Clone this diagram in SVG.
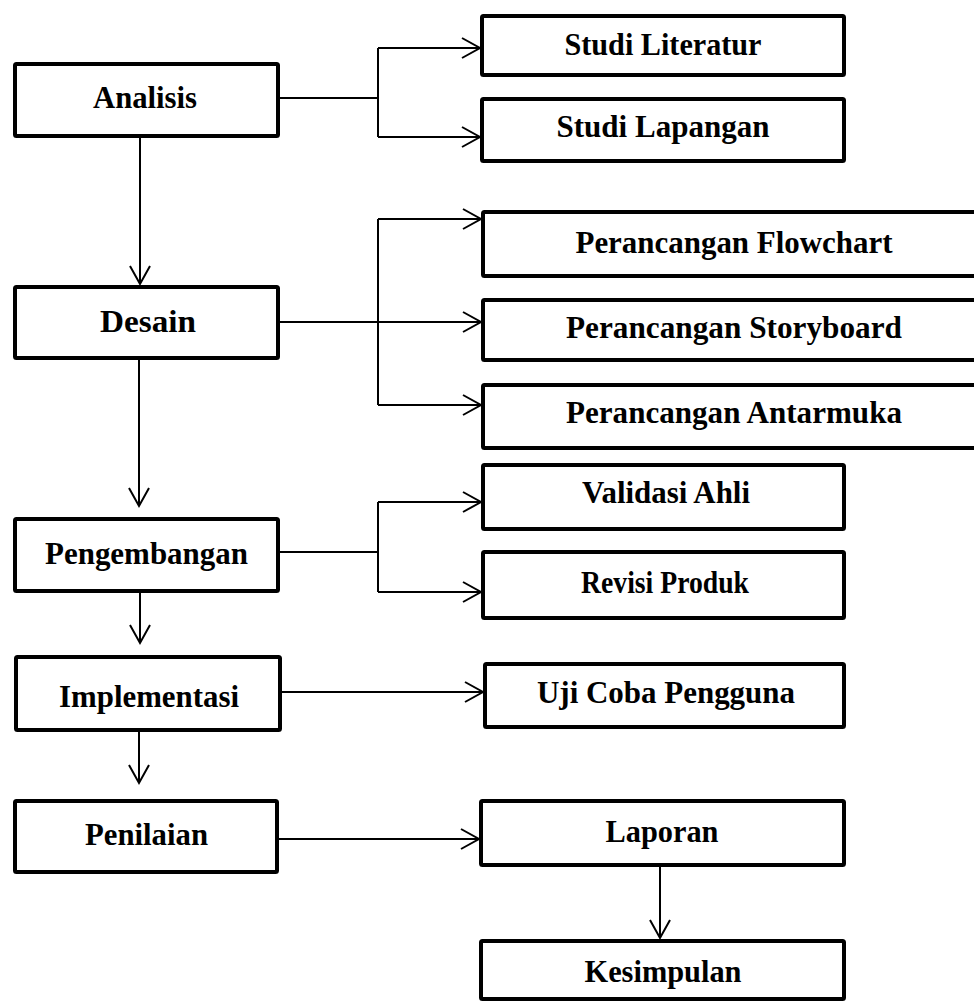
<svg xmlns="http://www.w3.org/2000/svg" width="974" height="1002" viewBox="0 0 974 1002">
<defs>
<marker id="arr" markerUnits="userSpaceOnUse" markerWidth="24" markerHeight="24" viewBox="-1 -12 22 24" refX="19" refY="0" orient="auto">
<path d="M1,-10 L19,0 L1,10" fill="none" stroke="#000" stroke-width="2"/>
</marker>
</defs>
<style>
.box{fill:#fff;stroke:#000;stroke-width:4;}
.t{font-family:"Liberation Serif","Times New Roman",serif;font-weight:bold;font-size:32px;fill:#000;text-anchor:middle;}
.c{fill:none;stroke:#000;stroke-width:2;}
.a{marker-end:url(#arr);}
</style>
<rect width="974" height="1002" fill="#fff"/>
<g id="connectors">
<path class="c" d="M280,98 H378 M378,48 V137"/>
<path class="c a" d="M378,48 H480"/>
<path class="c a" d="M378,137 H480"/>
<path class="c a" d="M140,138 V284"/>
<path class="c a" d="M280,322 H481"/>
<path class="c" d="M378,219 V405"/>
<path class="c a" d="M378,219 H481"/>
<path class="c a" d="M378,405 H481"/>
<path class="c a" d="M139,360 V506"/>
<path class="c" d="M280,552 H378 M378,502 V592"/>
<path class="c a" d="M378,502 H481"/>
<path class="c a" d="M378,592 H481"/>
<path class="c a" d="M140,593 V643"/>
<path class="c a" d="M282,692 H483"/>
<path class="c a" d="M139,732 V783"/>
<path class="c a" d="M279,839 H479"/>
<path class="c a" d="M660,867 V938"/>
</g>
<g id="analisis"><rect class="box" x="15" y="64" width="263" height="72" rx="1.5"/><text class="t" x="145" y="108" textLength="104" lengthAdjust="spacingAndGlyphs">Analisis</text></g>
<g id="desain"><rect class="box" x="15" y="287" width="263" height="71" rx="1.5"/><text class="t" x="148" y="332" textLength="96" lengthAdjust="spacingAndGlyphs">Desain</text></g>
<g id="pengembangan"><rect class="box" x="15" y="519" width="263" height="72" rx="1.5"/><text class="t" x="146.5" y="564" textLength="203" lengthAdjust="spacingAndGlyphs">Pengembangan</text></g>
<g id="implementasi"><rect class="box" x="16" y="657" width="264" height="73" rx="1.5"/><text class="t" x="149" y="707" textLength="180" lengthAdjust="spacingAndGlyphs">Implementasi</text></g>
<g id="penilaian"><rect class="box" x="15" y="801" width="262" height="71" rx="1.5"/><text class="t" x="146.5" y="845" textLength="123" lengthAdjust="spacingAndGlyphs">Penilaian</text></g>
<g id="studi-literatur"><rect class="box" x="482" y="16" width="362" height="59" rx="1.5"/><text class="t" x="663" y="55" textLength="197" lengthAdjust="spacingAndGlyphs">Studi Literatur</text></g>
<g id="studi-lapangan"><rect class="box" x="482" y="99" width="362" height="62" rx="1.5"/><text class="t" x="663" y="137" textLength="213" lengthAdjust="spacingAndGlyphs">Studi Lapangan</text></g>
<g id="perancangan-flowchart"><rect class="box" x="483" y="212" width="600" height="64" rx="1.5"/><text class="t" x="734" y="253" textLength="317" lengthAdjust="spacingAndGlyphs">Perancangan Flowchart</text></g>
<g id="perancangan-storyboard"><rect class="box" x="483" y="300" width="600" height="60" rx="1.5"/><text class="t" x="734" y="338" textLength="336" lengthAdjust="spacingAndGlyphs">Perancangan Storyboard</text></g>
<g id="perancangan-antarmuka"><rect class="box" x="483" y="385" width="600" height="63" rx="1.5"/><text class="t" x="734" y="423" textLength="336" lengthAdjust="spacingAndGlyphs">Perancangan Antarmuka</text></g>
<g id="validasi-ahli"><rect class="box" x="483" y="465" width="361" height="64" rx="1.5"/><text class="t" x="666" y="503" textLength="168" lengthAdjust="spacingAndGlyphs">Validasi Ahli</text></g>
<g id="revisi-produk"><rect class="box" x="483" y="552" width="361" height="66" rx="1.5"/><text class="t" x="665" y="593" textLength="168" lengthAdjust="spacingAndGlyphs">Revisi Produk</text></g>
<g id="uji-coba-pengguna"><rect class="box" x="485" y="664" width="359" height="63" rx="1.5"/><text class="t" x="666" y="703" textLength="258" lengthAdjust="spacingAndGlyphs">Uji Coba Pengguna</text></g>
<g id="laporan"><rect class="box" x="481" y="801" width="363" height="64" rx="1.5"/><text class="t" x="662" y="842" textLength="113" lengthAdjust="spacingAndGlyphs">Laporan</text></g>
<g id="kesimpulan"><rect class="box" x="481" y="941" width="363" height="58" rx="1.5"/><text class="t" x="663" y="982" textLength="157" lengthAdjust="spacingAndGlyphs">Kesimpulan</text></g>
</svg>
